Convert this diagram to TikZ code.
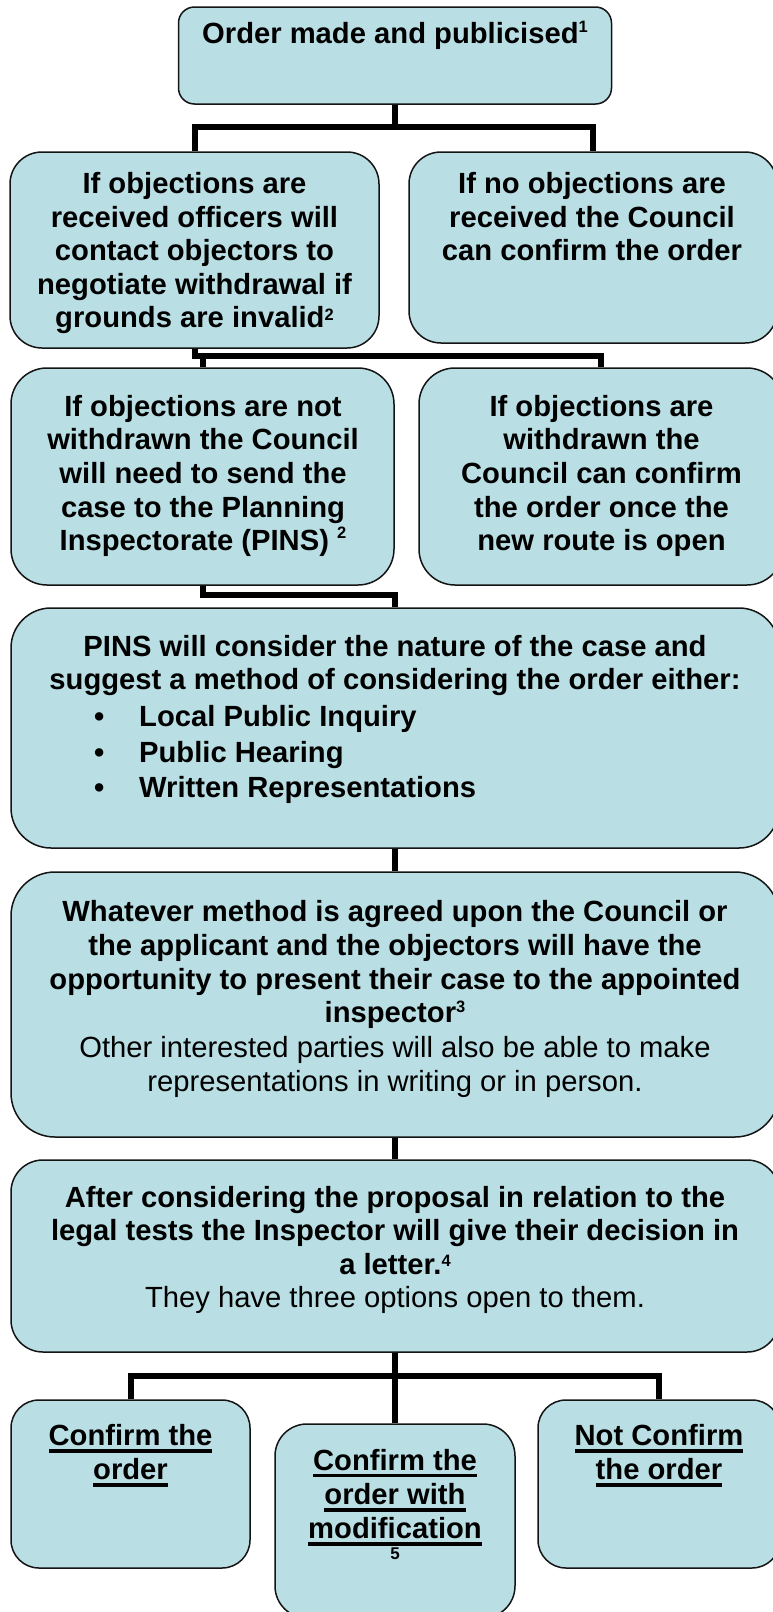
\documentclass[tikz,border=0pt]{standalone}
\usepackage{fontspec}
\setmainfont{Liberation Sans}
\usetikzlibrary{calc}
\definecolor{boxfill}{RGB}{185,223,228}
\definecolor{edge}{RGB}{20,20,20}
% strut fixing the top of the first text line 25pt above its baseline
\newcommand{\topstrut}{\rule{0pt}{25pt}}
% raised footnote number: #1 raise, #2 number
\newcommand{\notemark}[2]{\raisebox{#1pt}{\fontsize{16.5}{16.5}\selectfont #2}}
% thick underline below a piece of text
\newsavebox{\ulinebox}
\newcommand{\thickul}[1]{\sbox{\ulinebox}{#1}\rlap{\rule[-7pt]{\wd\ulinebox}{3.5pt}}\usebox{\ulinebox}}
\tikzset{
  box/.style={draw=edge, line width=1.5pt, fill=boxfill, inner sep=0pt},
  conn/.style={draw=black, line width=6pt, line join=miter},
  txt/.style={inner sep=0pt, align=center, anchor=north,
    font=\bfseries\fontsize{29.2}{33.6}\selectfont},
}
\begin{document}
\begin{tikzpicture}[x=1pt,y=-1pt]
\clip (0,0) rectangle (773,1612);
\fill[white] (0,0) rectangle (773,1612);

% boxes
\node[box, minimum width=433pt, minimum height=97pt, rounded corners=16pt] (top) at (395,55.5) {};
\node[box, minimum width=369pt, minimum height=196pt, rounded corners=32pt] (L2) at (194.5,250) {};
\node[box, minimum width=368pt, minimum height=191pt, rounded corners=32pt] (R2) at (593,247.5) {};
\node[box, minimum width=383pt, minimum height=217pt, rounded corners=36pt] (L3) at (202.5,476.5) {};
\node[box, minimum width=364pt, minimum height=217pt, rounded corners=36pt] (R3) at (601,476.5) {};
\node[box, minimum width=768pt, minimum height=240pt, rounded corners=40pt] (pins) at (395,728) {};
\node[box, minimum width=768pt, minimum height=265pt, rounded corners=44pt] (what) at (395,1004.5) {};
\node[box, minimum width=768pt, minimum height=192pt, rounded corners=32pt] (after) at (395,1256) {};
\node[box, minimum width=239pt, minimum height=168pt, rounded corners=28pt] (B1) at (130.5,1484) {};
\node[box, minimum width=240pt, minimum height=194pt, rounded corners=32pt] (B2) at (395,1521) {};
\node[box, minimum width=242pt, minimum height=168pt, rounded corners=28pt] (B3) at (659,1484) {};

% connectors
\draw[conn] (top.south) -- ++(0,24);
\draw[conn] (L2.north) -- ++(0,-24) -| (R2.north);
\draw[conn] (L2.south) |- ($(R3.north)+(0,-11)$) -- (R3.north);
\draw[conn] (L3.north) -- ++(0,-11);
\draw[conn] (L3.south) |- ($(pins.north)+(0,-12)$) -- (pins.north);
\draw[conn] (pins.south) -- (what.north);
\draw[conn] (what.south) -- (after.north);
\draw[conn] (after.south) -- (B2.north);
\draw[conn] (B1.north) -- ++(0,-23) -| (B3.north);

% texts
\node[txt] (topT) at (395,18.3) {\topstrut Order made and publicised\notemark{11}{1}};
\node[txt] (L2T) at (194.5,168.3) {\topstrut If objections are\\received officers will\\contact objectors to\\negotiate withdrawal if\\grounds are invalid\notemark{7}{2}};
\node[txt] (R2T) at (592,168.3) {\topstrut If no objections are\\received the Council\\can confirm the order};
\node[txt] (L3T) at (203,391) {\topstrut If objections are not\\withdrawn the Council\\will need to send the\\case to the Planning\\Inspectorate (PINS) \notemark{12}{2}};
\node[txt] (R3T) at (601.5,391) {\topstrut If objections are\\withdrawn the\\Council can confirm\\the order once the\\new route is open};
\node[txt] (pinsT) at (395,631) {\topstrut PINS will consider the nature of the case and\\suggest a method of considering the order either:};
\node[txt, align=left, anchor=north west, font=\bfseries\fontsize{29.2}{35.3}\selectfont] (pinsL) at (94,701.7)
  {\topstrut\makebox[45pt][l]{\textbullet}Local Public Inquiry\\
   \makebox[45pt][l]{\textbullet}Public Hearing\\
   \makebox[45pt][l]{\textbullet}Written Representations};
\node[txt] (whatT) at (395,896.7) {\topstrut Whatever method is agreed upon the Council or\\the applicant and the objectors will have the\\opportunity to present their case to the appointed\\inspector\notemark{10}{3}\\[1.5pt]
  \mdseries Other interested parties will also be able to make\\\mdseries representations in writing or in person.};
\node[txt, font=\bfseries\fontsize{29.2}{33.3}\selectfont] (afterT) at (395,1182.3) {\topstrut After considering the proposal in relation to the\\legal tests the Inspector will give their decision in\\a letter.\notemark{8}{4}\\\mdseries They have three options open to them.};
\node[txt, font=\bfseries\fontsize{29.2}{34}\selectfont] (B1T) at (130.5,1420.7) {\topstrut\thickul{Confirm the}\\\thickul{order}};
\node[txt, font=\bfseries\fontsize{29.2}{34.3}\selectfont] (B2T) at (395,1445) {\topstrut\thickul{Confirm the}\\\thickul{order with}\\\thickul{modification}};
\node[inner sep=0pt, anchor=base, font=\bfseries\fontsize{17}{17}\selectfont] (B2N) at (395,1559) {5};
\node[txt, font=\bfseries\fontsize{29.2}{34}\selectfont] (B3T) at (659,1420.7) {\topstrut\thickul{Not Confirm}\\\thickul{the order}};
\end{tikzpicture}
\end{document}
